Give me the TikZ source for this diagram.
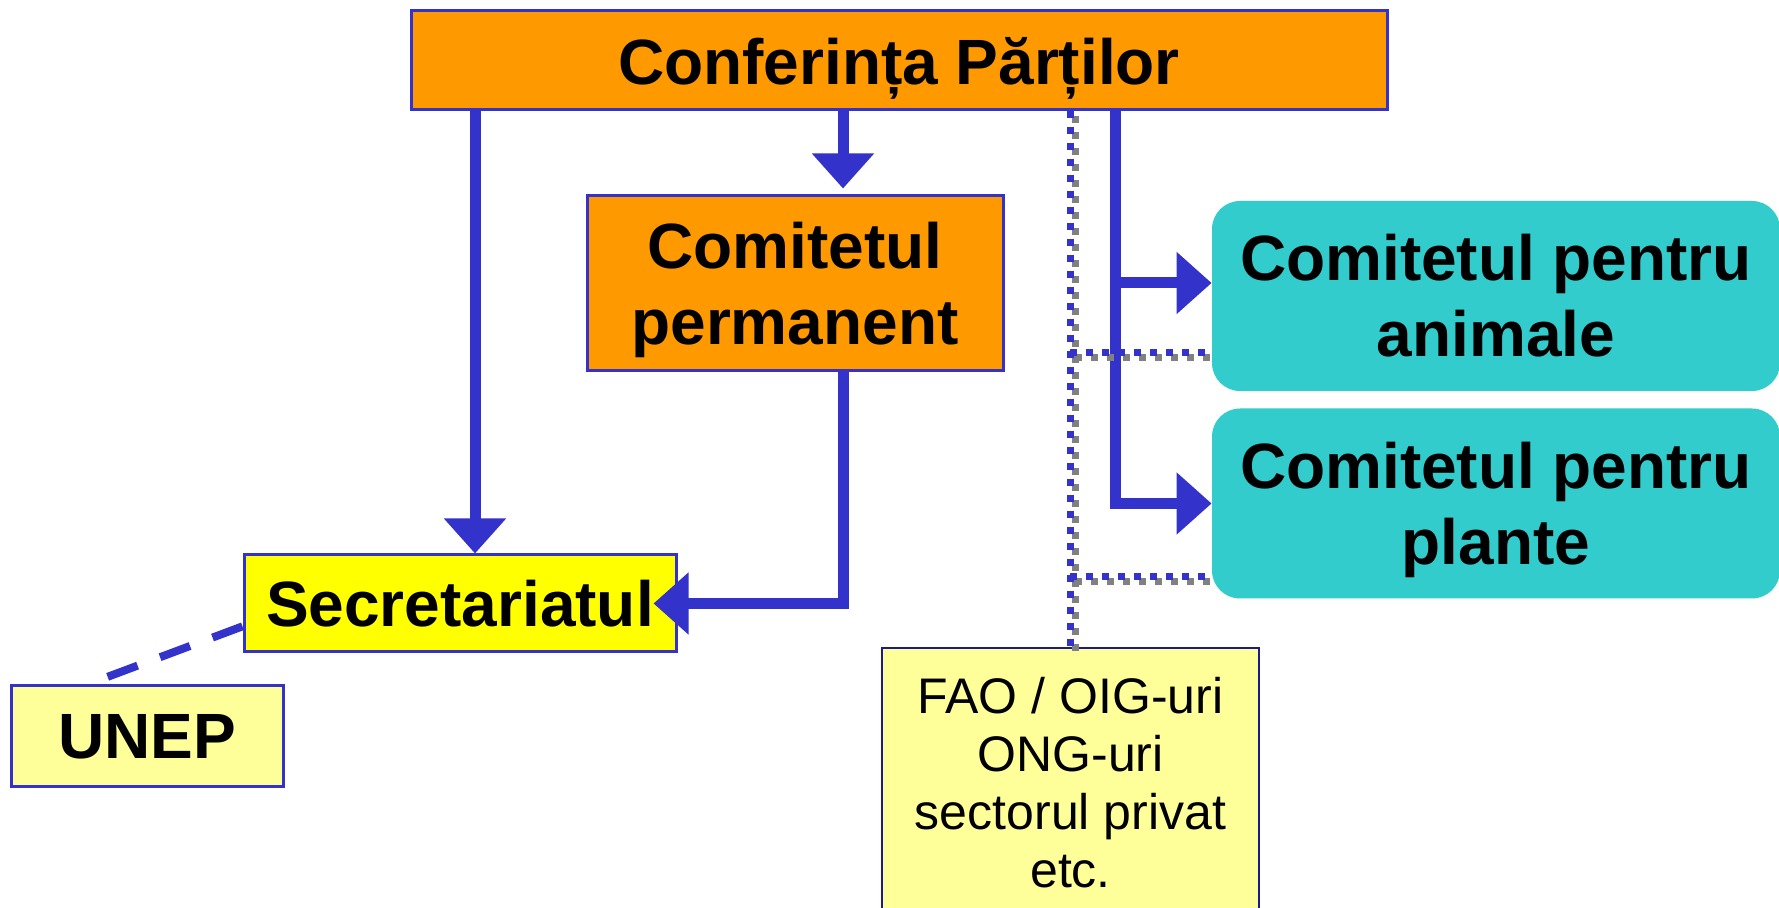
\documentclass[tikz,border=0pt]{standalone}
\usepackage{fontspec}
\setmainfont{Liberation Sans}
\usetikzlibrary{arrows.meta}
\definecolor{cborder}{HTML}{3333CC}
\definecolor{corange}{HTML}{FF9900}
\definecolor{cyellow}{HTML}{FFFF00}
\definecolor{cpale}{HTML}{FFFF99}
\definecolor{ccyan}{HTML}{33CCCC}
\definecolor{cgray}{HTML}{808080}
\definecolor{cfao}{HTML}{1A1A99}
\newcommand\dotpaths[1]{%
  \draw[dotline, draw=#1] (top.south -| fao.north) -- (fao.north);
  \draw[dotline, draw=#1] (D1) -- (D1 -| anim.west);
  \draw[dotline, draw=#1] (D2) -- (D2 -| plant.west);
}
\begin{document}
\begin{tikzpicture}[x=0.5pt,y=-0.5pt,
  bigtext/.style={font=\fontsize{32}{38}\selectfont\bfseries, align=center, inner sep=0pt},
  boxed/.style={bigtext, draw=cborder, line width=1.5pt},
  cyanbox/.style={bigtext, fill=ccyan, rounded corners=14pt, minimum width=284pt, minimum height=95pt},
  arr/.style={draw=cborder, line width=5.5pt, line join=miter, -{Triangle[length=17.5pt,width=30pt]}},
  dotline/.style={line width=3.5pt, dash pattern=on 3.5pt off 4.5pt},
  dashline/.style={draw=cborder, line width=4pt, dash pattern=on 16pt off 12pt}
]
\useasboundingbox (0,0) rectangle (1779,908);
\fill[white] (0,0) rectangle (1779,908);

\node[boxed, fill=corange, minimum width=488pt, minimum height=49.5pt, text depth=0pt] (top) at (899,60.5) {Conferința Părților};
\node[boxed, fill=corange, minimum width=208pt, minimum height=87.5pt, text depth=0pt] (perm) at (795,283.5) {Comitetul\\permanent};
\node[boxed, fill=cyellow, minimum width=216pt, minimum height=48.5pt] (sec) at (460,603.5) {Secretariatul};
\node[boxed, fill=cpale, minimum width=136pt, minimum height=50.5pt] (unep) at (147,736.5) {UNEP};
\node[cyanbox] (anim) at (1496,296) {Comitetul pentru\\animale};
\node[cyanbox, text depth=0pt] (plant) at (1496,503.5) {Comitetul pentru\\plante};
\node[draw=cfao, line width=0.75pt, fill=cpale, minimum width=188.5pt, minimum height=135pt,
      align=center, inner sep=0pt, font=\fontsize{25}{29}\selectfont] (fao) at (1070.5,783)
      {FAO / OIG-uri\\ONG-uri\\sectorul privat\\etc.};

% arrows
\coordinate (L0) at (475,110);
\draw[arr] (L0) -- (L0 |- sec.north);
\coordinate (C0) at (843,110);
\draw[arr, shorten >=3pt] (C0) -- (C0 |- perm.north);
\draw[arr, shorten >=-12pt] (C0 |- perm.south) |- (sec.east);
\coordinate (R0) at (1115,110);
\draw[arr] (R0) |- (plant.west);
\coordinate (R1) at (1115,283);
\draw[arr] (R1) -- (R1 -| anim.west);

% dashed link
\draw[dashline] (sec.186) -- (unep.139);

% dotted links with shadow
\coordinate (D1) at (1070,353);
\coordinate (D2) at (1070,577);
\begin{scope}[transform canvas={xshift=2.5pt,yshift=-2.5pt}]
  \dotpaths{cgray}
\end{scope}
\dotpaths{cborder}
\end{tikzpicture}
\end{document}
